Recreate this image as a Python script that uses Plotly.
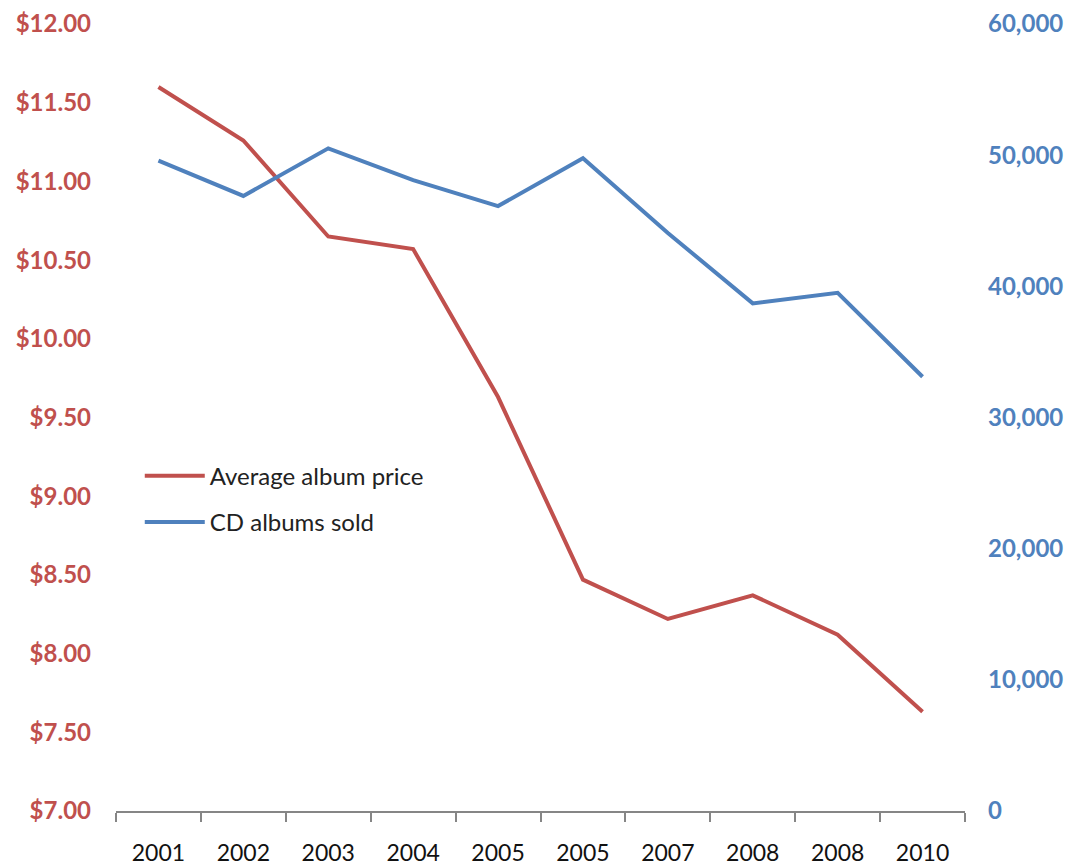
import plotly.graph_objects as go

years = ["2001", "2002", "2003", "2004", "2005", "2005", "2007", "2008", "2008", "2010"]
avg_price = [11.60, 11.26, 10.65, 10.57, 9.63, 8.47, 8.22, 8.37, 8.12, 7.63]
cd_sold = [49580, 46890, 50520, 48100, 46120, 49760, 44070, 38700, 39510, 33110]

price_ticks = [7.0, 7.5, 8.0, 8.5, 9.0, 9.5, 10.0, 10.5, 11.0, 11.5, 12.0]
sold_ticks = [0, 10000, 20000, 30000, 40000, 50000, 60000]

RED = "#C0504D"
BLUE = "#4F81BD"
FONT = "Lato"

xs = list(range(len(years)))

fig = go.Figure()
fig.add_trace(go.Scatter(x=xs, y=avg_price, name="Average album price", mode="lines",
                         line=dict(color=RED, width=4), legendgroup="a"))
fig.add_trace(go.Scatter(x=xs, y=cd_sold, name="CD albums sold", mode="lines",
                         line=dict(color=BLUE, width=4), yaxis="y2", legendgroup="b"))

fig.update_layout(
    width=1080, height=865,
    margin=dict(l=116, r=115, t=24, b=54),
    paper_bgcolor="white", plot_bgcolor="white",
    font=dict(family=FONT),
    showlegend=True,
    legend=dict(x=0.028, y=0.454, xanchor="left", yanchor="top",
                bgcolor="rgba(0,0,0,0)", font=dict(size=24, color="#222222", family=FONT),
                traceorder="grouped", tracegroupgap=12, itemwidth=60),
    xaxis=dict(
        range=[-0.5, len(years) - 0.5],
        tickmode="array", tickvals=xs, ticktext=years,
        ticks="", showgrid=False, zeroline=False, automargin=False,
        showline=True, linecolor="#868686", linewidth=1.5,
        tickfont=dict(size=23, color="#111111", family=FONT),
        ticklabelstandoff=21,
        minor=dict(tickmode="array",
                   tickvals=[i - 0.5 for i in range(len(years) + 1)],
                   ticks="outside", ticklen=9, tickcolor="#868686", tickwidth=1.5,
                   showgrid=False),
    ),
    yaxis=dict(
        range=[7.0, 12.0], tickmode="array", tickvals=price_ticks,
        ticktext=["$%.2f" % v for v in price_ticks],
        showgrid=False, zeroline=False, showline=False, ticks="", automargin=False,
        tickfont=dict(size=24, color=RED, family=FONT, weight="bold"),
        ticklabelstandoff=24,
    ),
    yaxis2=dict(
        range=[0, 60000], tickmode="array", tickvals=sold_ticks,
        ticktext=["{:,}".format(v) for v in sold_ticks],
        overlaying="y", side="right", automargin=False,
        showgrid=False, zeroline=False, showline=False, ticks="",
        tickfont=dict(size=24, color=BLUE, family=FONT, weight="bold"),
        ticklabelstandoff=22,
    ),
)

fig.write_html("out.html")
